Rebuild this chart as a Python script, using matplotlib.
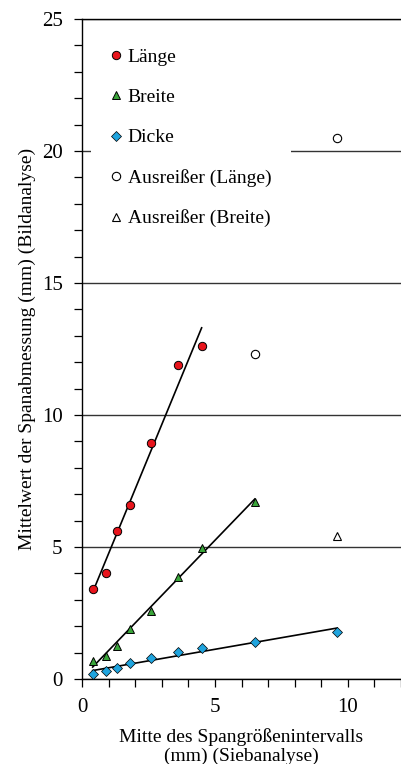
import matplotlib.pyplot as plt
import numpy as np
from matplotlib.ticker import MultipleLocator

plt.rcParams['font.family'] = ['Liberation Serif', 'DejaVu Serif']

# sieve interval midpoints (mm)
x_all = [0.4, 0.9, 1.3, 1.8, 2.6, 3.6, 4.5, 6.5, 9.6]

laenge_x = [0.4, 0.9, 1.3, 1.8, 2.6, 3.6, 4.5]
laenge_y = [3.4, 4.0, 5.6, 6.6, 8.95, 11.9, 12.6]
breite_x = [0.4, 0.9, 1.3, 1.8, 2.6, 3.6, 4.5, 6.5]
breite_y = [0.68, 0.87, 1.26, 1.88, 2.58, 3.85, 4.97, 6.72]
dicke_x = x_all
dicke_y = [0.2, 0.29, 0.42, 0.59, 0.81, 1.01, 1.19, 1.40, 1.79]

ausr_laenge_x = [6.5, 9.6]
ausr_laenge_y = [12.3, 20.5]
ausr_breite_x = [9.6]
ausr_breite_y = [5.4]

fig = plt.figure(figsize=(4.01, 7.64), dpi=100)
ax = fig.add_axes([0.2045, 0.1113, 0.7955, 0.8637])

# regression lines
for xs, ys in [(laenge_x, laenge_y), (breite_x, breite_y), (dicke_x, dicke_y)]:
    k, d = np.polyfit(xs, ys, 1)
    xx = np.array([xs[0], xs[-1]])
    ax.plot(xx, k * xx + d, color='black', lw=1.2, zorder=3)

ms = 6
ax.plot(laenge_x, laenge_y, 'o', ms=ms, mfc='#e8141c', mec='black', mew=0.7, ls='none', label='Länge', zorder=4)
ax.plot(breite_x, breite_y, '^', ms=ms, mfc='#3aa53a', mec='black', mew=0.7, ls='none', label='Breite', zorder=4)
ax.plot(dicke_x, dicke_y, 'D', ms=ms - 1.2, mfc='#1fa4de', mec='black', mew=0.5, ls='none', label='Dicke', zorder=4)
ax.plot(ausr_laenge_x, ausr_laenge_y, 'o', ms=ms, mfc='white', mec='black', mew=0.8, ls='none',
        label='Ausreißer (Länge)', zorder=4)
ax.plot(ausr_breite_x, ausr_breite_y, '^', ms=ms, mfc='white', mec='black', mew=0.8, ls='none',
        label='Ausreißer (Breite)', zorder=4)

ax.set_xlim(0, 12)
ax.set_ylim(0, 25)
ax.xaxis.set_major_locator(MultipleLocator(5))
ax.xaxis.set_minor_locator(MultipleLocator(1))
ax.yaxis.set_major_locator(MultipleLocator(5))
ax.yaxis.set_minor_locator(MultipleLocator(1))
ax.tick_params(which='both', direction='out', length=6, width=0.9, labelsize=15, pad=8)
ax.tick_params(top=False, right=False)
ax.grid(axis='y', which='major', color='#333333', lw=1.0, zorder=1)
ax.set_axisbelow(True)
for s in ax.spines.values():
    s.set_linewidth(1.0)
ax.spines['right'].set_visible(False)

ax.set_ylabel('Mittelwert der Spanabmessung (mm) (Bildanalyse)', fontsize=14, labelpad=4)
ax.set_xlabel('Mitte des Spangrößenintervalls\n(mm) (Siebanalyse)', fontsize=14, labelpad=8,
              linespacing=1.1)

leg = ax.legend(loc='upper left', bbox_to_anchor=(0.028, 0.985), fontsize=14, frameon=True,
                facecolor='white', edgecolor='none', framealpha=1, handlelength=0.6,
                handletextpad=0.3, labelspacing=1.16, borderpad=1.0, markerscale=1.0,
                borderaxespad=0)
leg.set_zorder(5)

fig.savefig('out.png', dpi=100)
